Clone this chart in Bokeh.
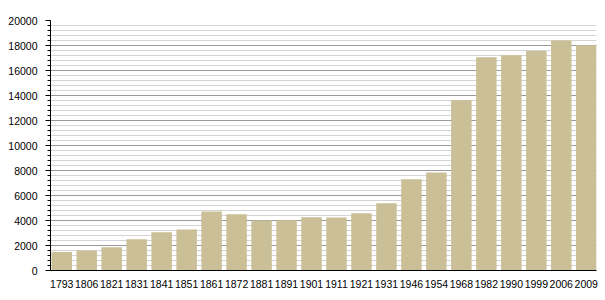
from bokeh.plotting import figure
from bokeh.models import Range1d, FixedTicker, SingleIntervalTicker, ColumnDataSource
from bokeh.embed import file_html
from bokeh.resources import INLINE

years = ["1793", "1806", "1821", "1831", "1841", "1851", "1861", "1872", "1881", "1891",
         "1901", "1911", "1921", "1931", "1946", "1954", "1968", "1982", "1990", "1999",
         "2006", "2009"]
population = [1480, 1600, 1870, 2500, 3070, 3280, 4720, 4510, 4000, 4030,
              4270, 4240, 4590, 5390, 7310, 7840, 13630, 17070, 17230, 17570,
              18400, 18030]

idx = list(range(len(years)))
src = ColumnDataSource(dict(x=idx, pop=population))

n = len(years)
bw = 0.82
pad = 0.04
p = figure(width=605, height=300, output_backend="svg", toolbar_location=None,
           x_range=Range1d(-bw / 2 - pad, n - 1 + bw / 2),
           y_range=Range1d(0, 20000),
           min_border_left=50, min_border_right=9, min_border_top=20, min_border_bottom=30)

p.vbar(x="x", top="pop", width=bw, source=src, fill_color="#CBBF97", line_color=None)

p.outline_line_color = None
p.background_fill_color = "white"
p.border_fill_color = "white"

# y axis
p.yaxis.ticker = SingleIntervalTicker(interval=2000, num_minor_ticks=5)
p.yaxis.axis_line_color = "black"
p.yaxis.major_tick_line_color = "black"
p.yaxis.minor_tick_line_color = "black"
p.yaxis.major_tick_out = 5
p.yaxis.major_tick_in = 0
p.yaxis.minor_tick_out = 3
p.yaxis.minor_tick_in = 0
p.yaxis.major_label_standoff = 8
p.yaxis.major_label_text_font = "Liberation Sans"
p.yaxis.major_label_text_font_size = "10.5px"
p.yaxis.major_label_text_color = "black"

# x axis
p.xaxis.ticker = FixedTicker(ticks=idx)
p.xaxis.major_label_overrides = {i: y for i, y in zip(idx, years)}
p.xaxis.axis_line_color = "black"
p.xaxis.major_tick_line_color = None
p.xaxis.minor_tick_line_color = None
p.xaxis.major_label_standoff = 3
p.xaxis.major_label_text_font = "Liberation Sans"
p.xaxis.major_label_text_font_size = "10.5px"
p.xaxis.major_label_text_color = "black"

p.xgrid.grid_line_color = None
p.ygrid.grid_line_color = "#9a9a9a"
p.ygrid.minor_grid_line_color = "#d4d4d4"

open("out.html", "w").write(file_html(p, INLINE))
